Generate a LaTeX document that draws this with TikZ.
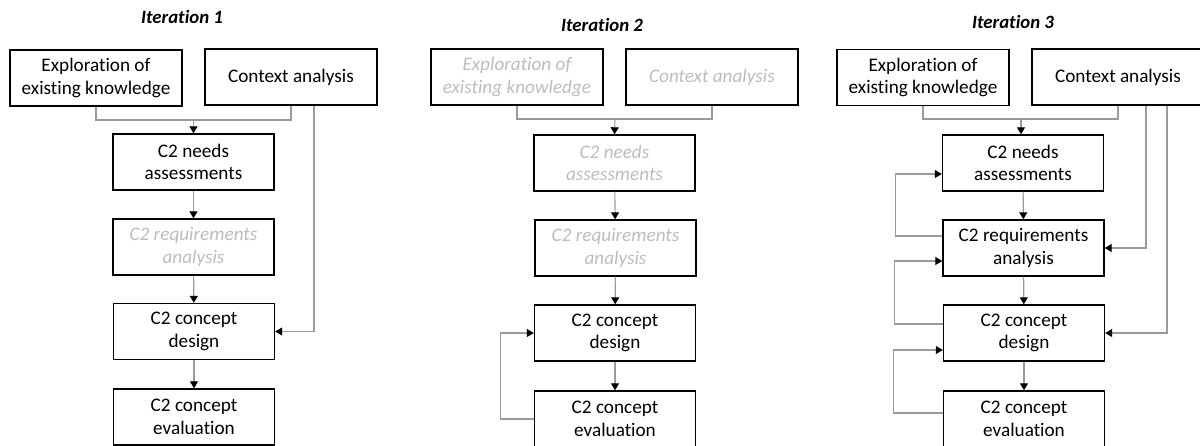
\documentclass[tikz,border=0pt]{standalone}
\usepackage{fontspec}
\setmainfont{Carlito}[RawFeature=-liga]
\usetikzlibrary{arrows.meta}
\definecolor{linegray}{HTML}{9A9A9A}
\definecolor{fadegray}{HTML}{BDBDBD}
\tikzset{
  box/.style={draw=black, line width=1.4pt, fill=white, align=center, inner sep=0pt,
    font=\fontsize{19.2}{22.7}\selectfont, minimum height=56pt},
  wide/.style={box, minimum width=172pt},
  mid/.style={box, minimum width=161pt},
  faded/.style={text=fadegray, font=\fontsize{19.2}{22.7}\selectfont\itshape},
  title/.style={font=\fontsize{18.8}{22}\selectfont\bfseries\itshape},
  conn/.style={draw=linegray, line width=1.1pt},
  flow/.style={conn, -{Triangle[length=7pt,width=8pt,color=black]}},
}
\begin{document}
\begin{tikzpicture}[x=1pt, y=-1pt]
\clip (0,0) rectangle (1200,445);
\fill[white] (0,0) rectangle (1200,445);

% ---- Iteration 1 ----
\node[title] (t1) at (182,17) {Iteration 1};
\node[wide] (e1) at (96,78) {Exploration of\\existing knowledge};
\node[wide] (c1) at (291,77) {Context analysis};
\node[mid] (n1) at (193.5,162) {C2 needs\\assessments};
\node[mid, faded] (r1) at (193.5,247) {C2 requirements\\analysis};
\node[mid] (d1) at (194,331.5) {C2 concept\\design};
\node[mid] (v1) at (194,417) {C2 concept\\evaluation};
\coordinate (j1) at (193.5,120);
\draw[conn] (e1.south) |- (j1) -| (c1.south);
\draw[flow] (j1) -- (n1.north);
\draw[flow] (n1) -- (r1);
\draw[flow] (r1) -- (d1);
\draw[flow] (d1) -- (v1);
\draw[flow] ([xshift=23pt]c1.south) |- (d1.east);

% ---- Iteration 2 ----
\node[title] (t2) at (602,25) {Iteration 2};
\node[wide, faded] (e2) at (517,77) {Exploration of\\existing knowledge};
\node[wide, faded] (c2) at (712,77) {Context analysis};
\node[mid, faded] (n2) at (614.5,163) {C2 needs\\assessments};
\node[mid, faded] (r2) at (615.5,248) {C2 requirements\\analysis};
\node[mid] (d2) at (615,333) {C2 concept\\design};
\node[mid] (v2) at (615,419) {C2 concept\\evaluation};
\coordinate (j2) at (615,119);
\draw[conn] (e2.south) |- (j2) -| (c2.south);
\draw[flow] (j2) -- (n2.north);
\draw[flow] (n2) -- (r2);
\draw[flow] (r2) -- (d2);
\draw[flow] (d2) -- (v2);
\draw[flow] (v2.west) -- ++(-33,0) |- (d2.west);

% ---- Iteration 3 ----
\node[title] (t3) at (1013,22) {Iteration 3};
\node[wide] (e3) at (923,77.5) {Exploration of\\existing knowledge};
\node[wide] (c3) at (1118,77) {Context analysis};
\node[mid] (n3) at (1023,163) {C2 needs\\assessments};
\node[mid] (r3) at (1023.5,248) {C2 requirements\\analysis};
\node[mid] (d3) at (1024,333) {C2 concept\\design};
\node[mid] (v3) at (1024,419) {C2 concept\\evaluation};
\coordinate (j3) at (1021,119);
\draw[conn] (e3.south) |- (j3) -| (c3.south);
\draw[flow] (j3) -- (n3.north -| j3);
\draw[flow] (n3) -- (r3);
\draw[flow] (r3) -- (d3);
\draw[flow] (d3) -- (v3);
\draw[flow] ([xshift=28pt]c3.south) |- (r3.east);
\draw[flow] ([xshift=49pt]c3.south) |- (d3.east);
\draw[flow] ([yshift=12pt]r3.west) -- ++(-47,0) |- ([yshift=-11pt]n3.west);
\draw[flow] ([yshift=9pt]d3.west) -- ++(-48,0) |- ([yshift=-13pt]r3.west);
\draw[flow] ([yshift=6pt]v3.west) -- ++(-49,0) |- ([yshift=-17pt]d3.west);
\end{tikzpicture}
\end{document}
